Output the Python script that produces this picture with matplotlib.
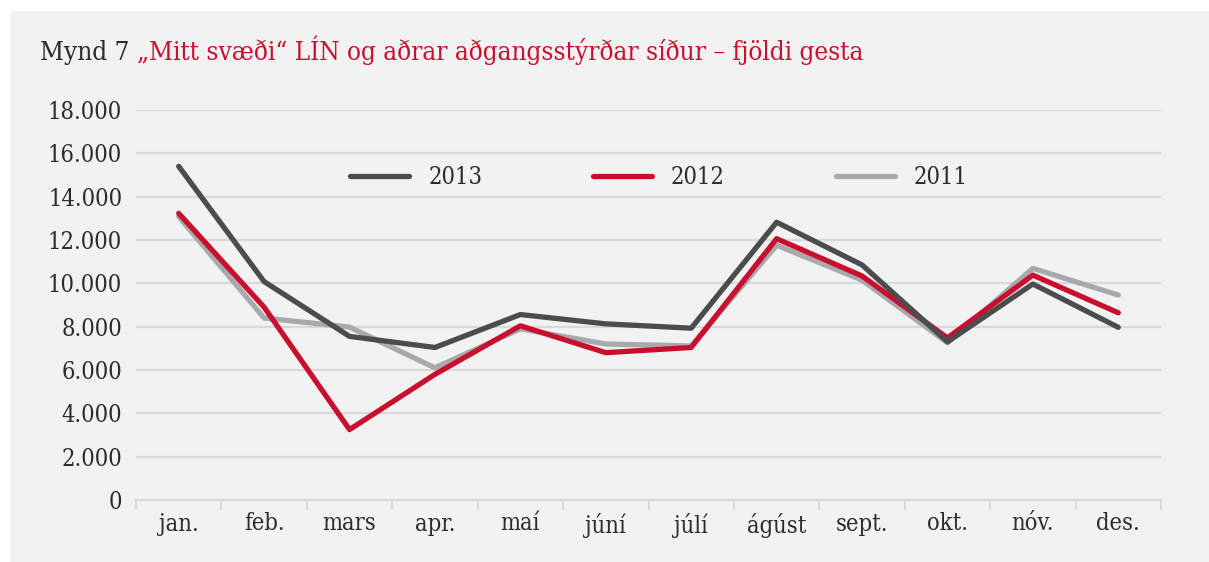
import numpy as np
import matplotlib
matplotlib.use("Agg")
import matplotlib.pyplot as plt
from matplotlib.patches import Rectangle
from matplotlib.ticker import FuncFormatter, FixedLocator

# ── DATA ────────────────────────────────────────────────────────────────────
months = ["jan.", "feb.", "mars", "apr.", "maí", "júní",
          "júlí", "ágúst", "sept.", "okt.", "nóv.", "des."]
y2013 = [15400, 10080, 7550, 7040, 8560, 8130, 7930, 12820, 10850, 7300, 9970, 7970]
y2012 = [13230, 8900, 3250, 5800, 8040, 6800, 7040, 12060, 10340, 7480, 10380, 8640]
y2011 = [13080, 8400, 7980, 6100, 7900, 7200, 7110, 11760, 10150, 7260, 10690, 9460]
yticks = [0, 2000, 4000, 6000, 8000, 10000, 12000, 14000, 16000, 18000]

# ── STYLE ───────────────────────────────────────────────────────────────────
BG     = "#f2f2f2"
GRID   = "#d9d9d9"
TXT    = "#2b2b2b"
C2013  = "#4a4d4e"
C2012  = "#c8102e"
C2011  = "#a7a9ac"

# condensed DejaVu Serif is closest in width to the original typeface
plt.rcParams["font.family"] = ["DejaVu Serif"]
plt.rcParams["font.stretch"] = "condensed"
FS = 17

W, H = 1209, 562
fig = plt.figure(figsize=(W / 100, H / 100), dpi=100, facecolor="white")

# grey panel behind everything
fig.patches.append(Rectangle((10 / W, 0), 1 - 10 / W, 1 - 11 / H,
                             transform=fig.transFigure, facecolor=BG,
                             edgecolor="none", zorder=-10))

ax = fig.add_axes([136 / W, 1 - 500 / H, (1161 - 136) / W, 390 / H])
ax.set_facecolor("none")

x = np.arange(len(months))
lw = 3.8
ax.plot(x, y2013, color=C2013, lw=lw, label="2013", solid_capstyle="round", zorder=5)
ax.plot(x, y2012, color=C2012, lw=lw, label="2012", solid_capstyle="round", zorder=4)
ax.plot(x, y2011, color=C2011, lw=lw, label="2011", solid_capstyle="round", zorder=3)

ax.set_xlim(-0.5, len(months) - 0.5)
ax.set_ylim(0, 18000)

ax.yaxis.set_major_locator(FixedLocator(yticks))
ax.yaxis.set_major_formatter(FuncFormatter(lambda v, p: f"{v:,.0f}".replace(",", ".")))
ax.grid(axis="y", color=GRID, lw=1.6, zorder=0)
ax.set_axisbelow(True)

ax.set_xticks(x)
ax.set_xticklabels(months)
ax.set_xticks(np.arange(-0.5, len(months)), minor=True)
ax.tick_params(axis="x", which="major", length=0, pad=9, labelsize=FS, labelcolor=TXT)
ax.tick_params(axis="x", which="minor", length=7, width=1.3, color=GRID, direction="out")
ax.tick_params(axis="y", length=0, pad=10, labelsize=FS, labelcolor=TXT)

for s in ["top", "right", "left"]:
    ax.spines[s].set_visible(False)
ax.spines["bottom"].set_color(GRID)
ax.spines["bottom"].set_linewidth(1.6)

leg = ax.legend(loc="center", bbox_to_anchor=(659 / W, 1 - 178 / H),
                bbox_transform=fig.transFigure, ncol=3, frameon=False,
                handlelength=2.5, handletextpad=0.8, columnspacing=4.7,
                fontsize=FS)
for t in leg.get_texts():
    t.set_color(TXT)

# title in two colours
t1 = fig.text(40 / W, 1 - 60 / H, "Mynd 7 ", fontsize=18.7, color=TXT,
              ha="left", va="baseline")
fig.canvas.draw()
bb = t1.get_window_extent()
fig.text(bb.x1 / W, 1 - 60 / H,
         "„Mitt svæði“ LÍN og aðrar aðgangsstýrðar síður – fjöldi gesta",
         fontsize=18.7, color=C2012, ha="left", va="baseline")

fig.savefig("out.png", dpi=100, facecolor="white")
